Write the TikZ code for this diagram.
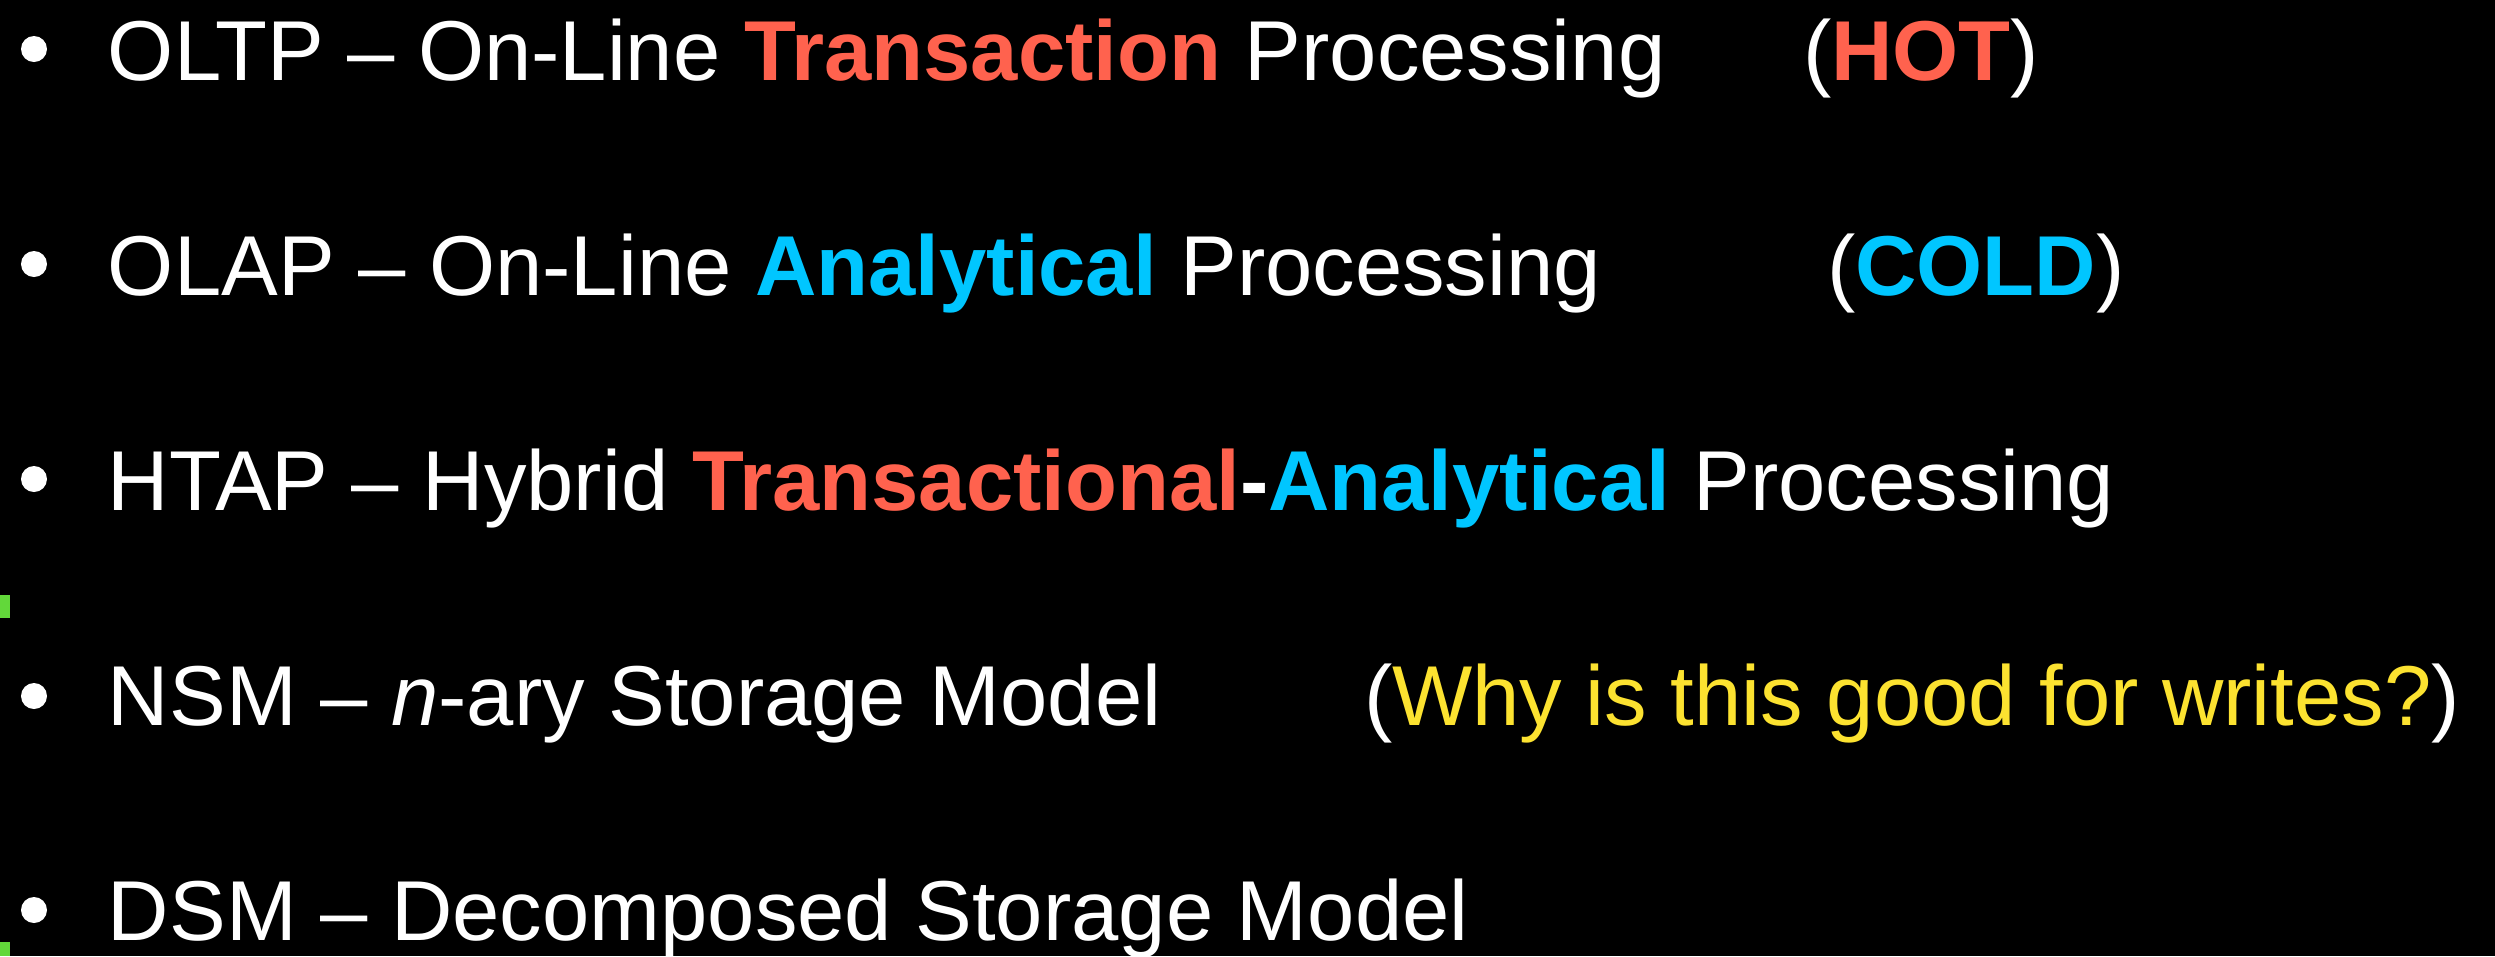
\documentclass[tikz,border=0pt]{standalone}
\usepackage{fontspec}
\setmainfont{Liberation Sans}
\definecolor{hot}{RGB}{255,98,78}
\definecolor{cold}{RGB}{0,198,255}
\definecolor{ask}{RGB}{252,226,48}
\definecolor{edgegreen}{RGB}{98,216,58}
\begin{document}
\begin{tikzpicture}[x=0.25pt,y=-0.25pt,
  item/.style={anchor=base west,inner sep=0pt,outer sep=0pt,text=white,
    font=\fontsize{21.25}{25}\selectfont},
  dot/.style={circle,fill=white,inner sep=0pt,minimum size=6.5pt}]
\fill[black] (0,0) rectangle (2495,956);
\useasboundingbox (0,0) rectangle (2495,956);
% green slide markers on the left edge
\fill[edgegreen] (0,595) rectangle (10,618);
\fill[edgegreen] (0,942) rectangle (10,956);
% bullets
\node[dot] (b1) at (34,49) {};
\node[dot] (b2) at (34,264) {};
\node[dot] (b3) at (34,479) {};
\node[dot] (b4) at (34,696) {};
\node[dot] (b5) at (34,910) {};
% items
\node[item] (t1) at (108,80) {OLTP -- On-Line \textbf{\color{hot}Transaction} Processing};
\node[item] (p1) at (1803,80) {(\textbf{\color{hot}HOT})};
\node[item] (t2) at (108,295) {OLAP -- On-Line \textbf{\color{cold}Analytical} Processing};
\node[item] (p2) at (1827,295) {(\textbf{\color{cold}COLD})};
\node[item] (t3) at (108,510) {HTAP -- Hybrid \textbf{\color{hot}Transactional}\textbf{-}\textbf{\color{cold}Analytical} Processing};
\node[item] (t4) at (108,725) {NSM -- \textit{n}-ary Storage Model};
\node[item] (p4) at (1364,725) {({\color{ask}Why is this good for writes?})};
\node[item] (t5) at (108,940) {DSM -- Decomposed Storage Model};
\end{tikzpicture}
\end{document}
